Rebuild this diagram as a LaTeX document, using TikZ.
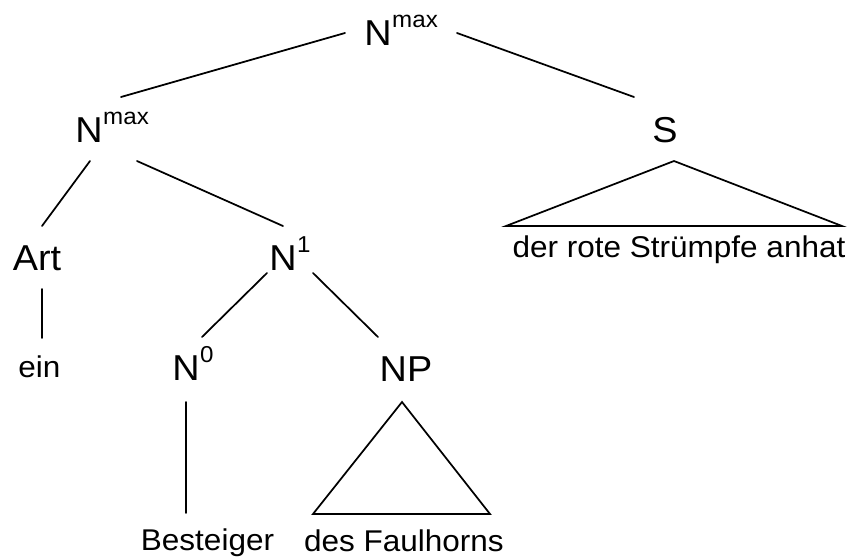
\documentclass[tikz,border=0pt]{standalone}
\usepackage{fontspec}
\setmainfont{Liberation Sans}[FakeStretch=1.05]
\newfontfamily\catfont{Liberation Sans}[FakeStretch=1.05]
% category label with a raised index, e.g. N^max
\newcommand{\catsup}[2]{#1\kern0.5pt\raisebox{12.8pt}{\fontsize{17.25pt}{19pt}\selectfont #2}}
\begin{document}
\begin{tikzpicture}[x=0.75pt,y=-0.75pt,
  cat/.style={inner sep=0pt,font=\catfont\fontsize{27pt}{32pt}\selectfont},
  word/.style={inner sep=0pt,font=\fontsize{22.5pt}{27pt}\selectfont},
  branch/.style={line width=1.3pt,line cap=round},
  tri/.style={line width=1.3pt,line join=miter}]
\useasboundingbox (0,0) rectangle (850,558);

% category labels
\node[cat,anchor=base west] (root)  at (364,45)  {\catsup{N}{max}};
\node[cat,anchor=base west] (nmax)  at (75,142)  {\catsup{N}{max}};
\node[cat,anchor=base]      (s)     at (665,142) {S};
\node[cat,anchor=base]      (art)   at (37,270)  {Art};
\node[cat,anchor=base west] (n1)    at (269,270) {\catsup{N}{1}};
\node[cat,anchor=base west] (n0)    at (172,380) {\catsup{N}{0}};
\node[cat,anchor=base]      (np)    at (406,381) {NP};

% terminal strings
\node[word,anchor=base] (ein)    at (39.5,377) {ein};
\node[word,anchor=base] (clause) at (679,257) {der rote Strümpfe anhat};
\node[word,anchor=base] (head)   at (207.5,550) {Besteiger};
\node[word,anchor=base] (gen)    at (404,551) {des Faulhorns};

% branch end points
\coordinate (root-l) at (345,33);  \coordinate (nmax-u) at (121,97);
\coordinate (root-r) at (457,33);  \coordinate (s-u)    at (634,97);
\coordinate (nmax-l) at (90,161);  \coordinate (art-u)  at (42,226);
\coordinate (nmax-r) at (137,161); \coordinate (n1-u)   at (283,226);
\coordinate (art-d)  at (42,289);  \coordinate (ein-u)  at (42,338);
\coordinate (n1-l)   at (267,273); \coordinate (n0-u)   at (202,337);
\coordinate (n1-r)   at (313,273); \coordinate (np-u)   at (378,337);
\coordinate (n0-d)   at (186,402); \coordinate (head-u) at (186,513);
\coordinate (np-d)   at (402,402); \coordinate (gen-l)  at (313,514); \coordinate (gen-r) at (490,514);
\coordinate (s-d)    at (674,161); \coordinate (cl-l)   at (506,226); \coordinate (cl-r)  at (842,226);

% branches
\draw[branch] (root-l) -- (nmax-u);
\draw[branch] (root-r) -- (s-u);
\draw[branch] (nmax-l) -- (art-u);
\draw[branch] (nmax-r) -- (n1-u);
\draw[branch] (art-d)  -- (ein-u);
\draw[branch] (n1-l)   -- (n0-u);
\draw[branch] (n1-r)   -- (np-u);
\draw[branch] (n0-d)   -- (head-u);

% triangles for unanalysed constituents
\draw[tri] (np-d) -- (gen-r) -- (gen-l) -- cycle;
\draw[tri] (s-d)  -- (cl-r)  -- (cl-l)  -- cycle;
\end{tikzpicture}
\end{document}
